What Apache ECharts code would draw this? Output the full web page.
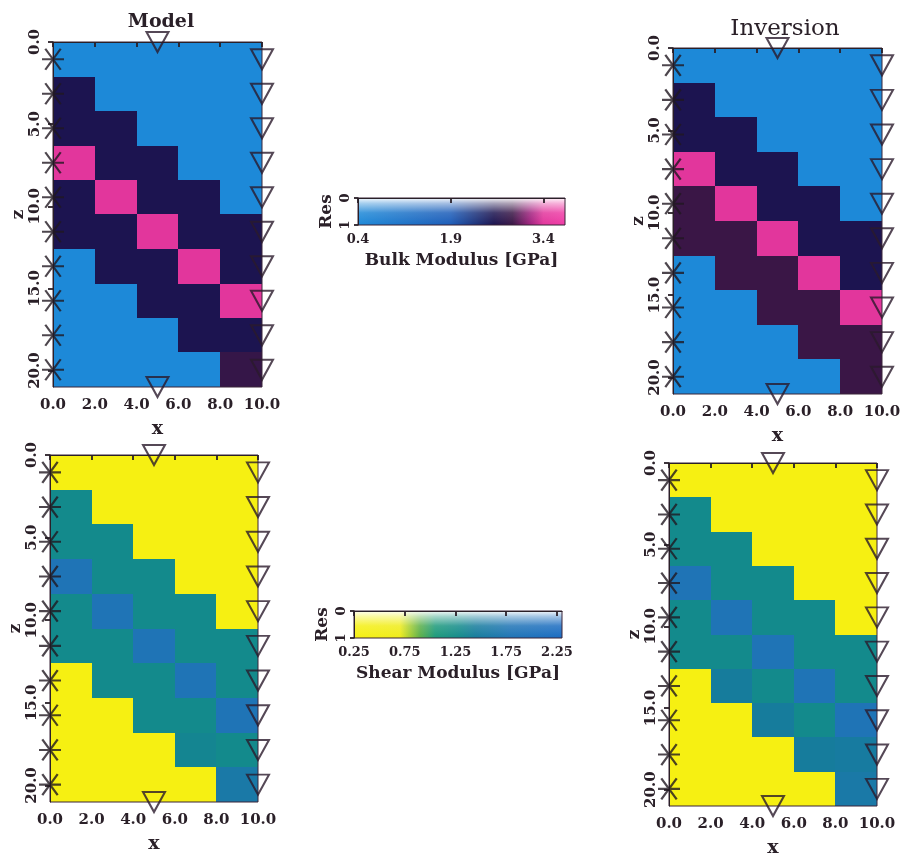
<!DOCTYPE html>
<html>
<head>
<meta charset="utf-8">
<script src="https://cdn.jsdelivr.net/npm/echarts@6/dist/echarts.min.js"></script>
<style>
  html, body { margin: 0; padding: 0; background: #ffffff; }
  #chart { width: 904px; height: 859px; }
</style>
</head>
<body>
<div id="chart"></div>
<script>
// Cell edges of the 5 x 10 block model (x across, z down)
const xEdges = [0, 2, 4, 6, 8, 10];
const zEdges = [0, 2.1, 4.2, 6.3, 8.4, 10.5, 12.6, 14.7, 16.8, 18.9, 21];
const xTicks = [0, 2, 4, 6, 8, 10];
const zTicks = [0, 5, 10, 15, 20];

// Acquisition: sources down the left well, receivers down the right well and at the surface/bottom
const sourceZ = [1.05, 3.15, 5.25, 7.35, 9.45, 11.55, 13.65, 15.75, 17.85, 19.95];
const receiverZ = [1.05, 3.15, 5.25, 7.35, 9.45, 11.55, 13.65, 15.75, 17.85, 19.95];
const extraReceivers = [[5, 0], [5, 21]];

// Bulk modulus [GPa], one row per z cell
const bulkModel = [
  [0.4, 0.4, 0.4, 0.4, 0.4],
  [2.6, 0.4, 0.4, 0.4, 0.4],
  [2.6, 2.6, 0.4, 0.4, 0.4],
  [3.4, 2.6, 2.6, 0.4, 0.4],
  [2.6, 3.4, 2.6, 2.6, 0.4],
  [2.6, 2.6, 3.4, 2.6, 2.6],
  [0.4, 2.6, 2.6, 3.4, 2.6],
  [0.4, 0.4, 2.6, 2.6, 3.4],
  [0.4, 0.4, 0.4, 2.6, 2.6],
  [0.4, 0.4, 0.4, 0.4, 2.85]
];
const bulkInversion = [
  [0.4, 0.4, 0.4, 0.4, 0.4],
  [2.6, 0.4, 0.4, 0.4, 0.4],
  [2.6, 2.6, 0.4, 0.4, 0.4],
  [3.4, 2.6, 2.6, 0.4, 0.4],
  [2.9, 3.4, 2.6, 2.6, 0.4],
  [2.9, 2.9, 3.4, 2.6, 2.6],
  [0.4, 2.9, 2.9, 3.4, 2.6],
  [0.4, 0.4, 2.9, 2.9, 3.4],
  [0.4, 0.4, 0.4, 2.9, 2.9],
  [0.4, 0.4, 0.4, 0.4, 2.9]
];

// Shear modulus [GPa]
const shearModel = [
  [0.25, 0.25, 0.25, 0.25, 0.25],
  [1.3, 0.25, 0.25, 0.25, 0.25],
  [1.3, 1.3, 0.25, 0.25, 0.25],
  [1.8, 1.3, 1.3, 0.25, 0.25],
  [1.3, 1.8, 1.3, 1.3, 0.25],
  [1.3, 1.3, 1.8, 1.3, 1.3],
  [0.25, 1.3, 1.3, 1.8, 1.3],
  [0.25, 0.25, 1.3, 1.3, 1.8],
  [0.25, 0.25, 0.25, 1.35, 1.3],
  [0.25, 0.25, 0.25, 0.25, 1.6]
];
const shearInversion = [
  [0.25, 0.25, 0.25, 0.25, 0.25],
  [1.3, 0.25, 0.25, 0.25, 0.25],
  [1.3, 1.3, 0.25, 0.25, 0.25],
  [1.8, 1.3, 1.3, 0.25, 0.25],
  [1.3, 1.8, 1.3, 1.3, 0.25],
  [1.3, 1.3, 1.8, 1.3, 1.3],
  [0.25, 1.45, 1.3, 1.8, 1.3],
  [0.25, 0.25, 1.45, 1.3, 1.8],
  [0.25, 0.25, 0.25, 1.45, 1.5],
  [0.25, 0.25, 0.25, 0.25, 1.6]
];

// Colour bars
const bulkRange = [0.4, 3.75];
const bulkTicks = [0.4, 1.9, 3.4];
const shearRange = [0.25, 2.3];
const shearTicks = [0.25, 0.75, 1.25, 1.75, 2.25];
const resTicks = [0, 1];

// Colour maps: [value, colour]
const bulkStops = [
  [0.4, '#1d89d8'], [1.9, '#1c5cb8'], [2.6, '#1c1450'], [2.9, '#3a1646'],
  [3.2, '#a42280'], [3.4, '#e2369c'], [3.75, '#f03ca6']
];
const shearStops = [
  [0.25, '#f6f012'], [0.7, '#efec1a'], [0.9, '#5cb048'], [1.05, '#1d9a7a'],
  [1.3, '#138a8c'], [1.45, '#167c9c'], [1.8, '#1f74b6'], [2.3, '#1b6cc2']
];

const INK = '#2a2028';
const FONT = 'DejaVu Serif';

function hexToRgb(h) {
  return [parseInt(h.slice(1, 3), 16), parseInt(h.slice(3, 5), 16), parseInt(h.slice(5, 7), 16)];
}
function makeColormap(stops) {
  return function (v) {
    if (v <= stops[0][0]) return stops[0][1];
    for (let i = 1; i < stops.length; i++) {
      if (v <= stops[i][0]) {
        const t = (v - stops[i - 1][0]) / (stops[i][0] - stops[i - 1][0]);
        const a = hexToRgb(stops[i - 1][1]), b = hexToRgb(stops[i][1]);
        return 'rgb(' + a.map((c, k) => Math.round(c + (b[k] - c) * t)).join(',') + ')';
      }
    }
    return stops[stops.length - 1][1];
  };
}

function cellData(grid) {
  const out = [];
  grid.forEach((row, r) => row.forEach((v, c) => {
    out.push([xEdges[c], xEdges[c + 1], zEdges[r], zEdges[r + 1], v]);
  }));
  return out;
}

// Each cell snapped to whole pixels so neighbouring blocks meet without seams
function cellRenderer(cmap) {
  return function (params, api) {
    const p0 = api.coord([api.value(0), api.value(2)]);
    const p1 = api.coord([api.value(1), api.value(3)]);
    const x0 = Math.round(Math.min(p0[0], p1[0])), x1 = Math.round(Math.max(p0[0], p1[0]));
    const y0 = Math.round(Math.min(p0[1], p1[1])), y1 = Math.round(Math.max(p0[1], p1[1]));
    return {
      type: 'rect',
      shape: { x: x0, y: y0, width: x1 - x0 + 1, height: y1 - y0 + 1 },
      style: { fill: cmap(api.value(4)) }
    };
  };
}

function colorbarRenderer(stops, range) {
  const span = range[1] - range[0];
  const grad = stops.map(s => ({ offset: (s[0] - range[0]) / span, color: s[1] }));
  return function (params, api) {
    const p0 = api.coord([api.value(0), 0]);
    const p1 = api.coord([api.value(1), 1]);
    const shape = { x: p0[0], y: p0[1], width: p1[0] - p0[0], height: p1[1] - p0[1] };
    return {
      type: 'group',
      children: [
        { type: 'rect', shape: shape,
          style: { fill: new echarts.graphic.LinearGradient(0, 0, 1, 0, grad) } },
        { type: 'rect', shape: shape,
          style: { fill: new echarts.graphic.LinearGradient(0, 0, 0, 1, [
            { offset: 0, color: 'rgba(255,255,255,0.95)' },
            { offset: 0.2, color: 'rgba(255,255,255,0.6)' },
            { offset: 0.55, color: 'rgba(255,255,255,0.15)' },
            { offset: 1, color: 'rgba(255,255,255,0)' }
          ]) } }
      ]
    };
  };
}

const asteriskPath = 'path://M0,10 L20,10 M3,1 L17,19 M17,1 L3,19';

const panels = [
  { box: { left: 53, top: 42, width: 209, height: 345 }, cells: bulkModel, stops: bulkStops },
  { box: { left: 673, top: 48, width: 209, height: 346 }, cells: bulkInversion, stops: bulkStops },
  { box: { left: 50, top: 455, width: 208, height: 347 }, cells: shearModel, stops: shearStops },
  { box: { left: 669, top: 463, width: 208, height: 346 }, cells: shearInversion, stops: shearStops }
];
const bars = [
  { box: { left: 358, top: 198, width: 207, height: 27 }, range: bulkRange, ticks: bulkTicks,
    stops: bulkStops, name: 'Bulk Modulus [GPa]', digits: 1 },
  { box: { left: 354, top: 611, width: 208, height: 27 }, range: shearRange, ticks: shearTicks,
    stops: shearStops, name: 'Shear Modulus [GPa]', digits: 2 }
];

const grid = [], xAxis = [], yAxis = [], series = [];
const tickLabel = { color: INK, fontFamily: FONT, fontWeight: 'bold', fontSize: 15 };

panels.forEach((p, i) => {
  grid.push(Object.assign({ show: true, z: 5, backgroundColor: 'transparent',
    borderColor: '#3a2438', borderWidth: 1 }, p.box));
  xAxis.push({
    gridIndex: i, type: 'value', min: 0, max: 10, position: 'bottom', z: 6,
    name: 'x', nameLocation: 'middle', nameGap: 33,
    nameTextStyle: { color: INK, fontFamily: FONT, fontWeight: 'bold', fontSize: 19 },
    axisLine: { show: true, lineStyle: { color: INK, width: 1 } },
    axisTick: { show: true, length: 5, customValues: xTicks, lineStyle: { color: INK, width: 1.8 } },
    axisLabel: Object.assign({ margin: 11, customValues: xTicks, formatter: v => v.toFixed(1) }, tickLabel),
    splitLine: { show: false }
  });
  yAxis.push({
    gridIndex: i, type: 'value', min: 0, max: 21, inverse: true, z: 6,
    name: 'z', nameLocation: 'middle', nameGap: 25, nameRotate: 90,
    nameTextStyle: { color: INK, fontFamily: FONT, fontWeight: 'bold', fontSize: 17 },
    axisLine: { show: true, lineStyle: { color: INK, width: 1 } },
    axisTick: { show: true, length: 5, customValues: zTicks, lineStyle: { color: INK, width: 1.8 } },
    axisLabel: Object.assign({ margin: 10, rotate: 90, customValues: zTicks, formatter: v => v.toFixed(1) }, tickLabel),
    splitLine: { show: false }
  });
  series.push({
    type: 'custom', xAxisIndex: i, yAxisIndex: i, clip: true, z: 2,
    renderItem: cellRenderer(makeColormap(p.stops)),
    encode: { x: [0, 1], y: [2, 3] },
    data: cellData(p.cells)
  });
  series.push({
    type: 'scatter', xAxisIndex: i, yAxisIndex: i, z: 8, silent: true,
    symbol: asteriskPath, symbolSize: [22, 21],
    itemStyle: { color: 'none', borderColor: '#201820', borderWidth: 2.2 },
    data: sourceZ.map(z => [0, z])
  });
  series.push({
    type: 'scatter', xAxisIndex: i, yAxisIndex: i, z: 8, silent: true,
    symbol: 'triangle', symbolRotate: 180, symbolSize: [22, 20],
    itemStyle: { color: 'rgba(0,0,0,0)', borderColor: '#2a1a2c', borderWidth: 2 },
    data: receiverZ.map(z => [10, z]).concat(extraReceivers)
  });
});

bars.forEach((b, j) => {
  const i = panels.length + j;
  grid.push(Object.assign({ show: true, z: 5, backgroundColor: 'transparent',
    borderColor: '#3a2438', borderWidth: 1 }, b.box));
  xAxis.push({
    gridIndex: i, type: 'value', min: b.range[0], max: b.range[1], position: 'bottom', z: 6,
    name: b.name, nameLocation: 'middle', nameGap: 27,
    nameTextStyle: { color: INK, fontFamily: FONT, fontWeight: 'bold', fontSize: 17 },
    axisLine: { show: true, lineStyle: { color: INK, width: 1 } },
    axisTick: { show: true, length: 5, customValues: b.ticks, lineStyle: { color: INK, width: 1.8 } },
    axisLabel: { margin: 8, customValues: b.ticks, formatter: v => v.toFixed(b.digits),
      color: INK, fontFamily: FONT, fontWeight: 'bold', fontSize: 13 },
    splitLine: { show: false }
  });
  yAxis.push({
    gridIndex: i, type: 'value', min: 0, max: 1, inverse: true, z: 6,
    name: 'Res', nameLocation: 'middle', nameGap: 23, nameRotate: 90,
    nameTextStyle: { color: INK, fontFamily: FONT, fontWeight: 'bold', fontSize: 17 },
    axisLine: { show: true, lineStyle: { color: INK, width: 1 } },
    axisTick: { show: true, length: 4, customValues: resTicks, lineStyle: { color: INK, width: 1.8 } },
    axisLabel: { margin: 6, rotate: 90, customValues: resTicks, formatter: v => String(v),
      color: INK, fontFamily: FONT, fontWeight: 'bold', fontSize: 13 },
    splitLine: { show: false }
  });
  series.push({
    type: 'custom', xAxisIndex: i, yAxisIndex: i, clip: true, z: 2, silent: true,
    renderItem: colorbarRenderer(b.stops, b.range),
    encode: { x: [0, 1] },
    data: [[b.range[0], b.range[1]]]
  });
});

const chart = echarts.init(document.getElementById('chart'), null, { renderer: 'canvas' });
chart.setOption({
  backgroundColor: '#ffffff',
  animation: false,
  title: [
    { text: 'Model', left: 156, top: 8, textAlign: 'center',
      textStyle: { color: INK, fontFamily: FONT, fontWeight: 'bold', fontSize: 19 } },
    { text: 'Inversion', left: 780, top: 13, textAlign: 'center',
      textStyle: { color: INK, fontFamily: FONT, fontWeight: 'normal', fontSize: 23 } }
  ],
  grid: grid,
  xAxis: xAxis,
  yAxis: yAxis,
  series: series
});
</script>
</body>
</html>
